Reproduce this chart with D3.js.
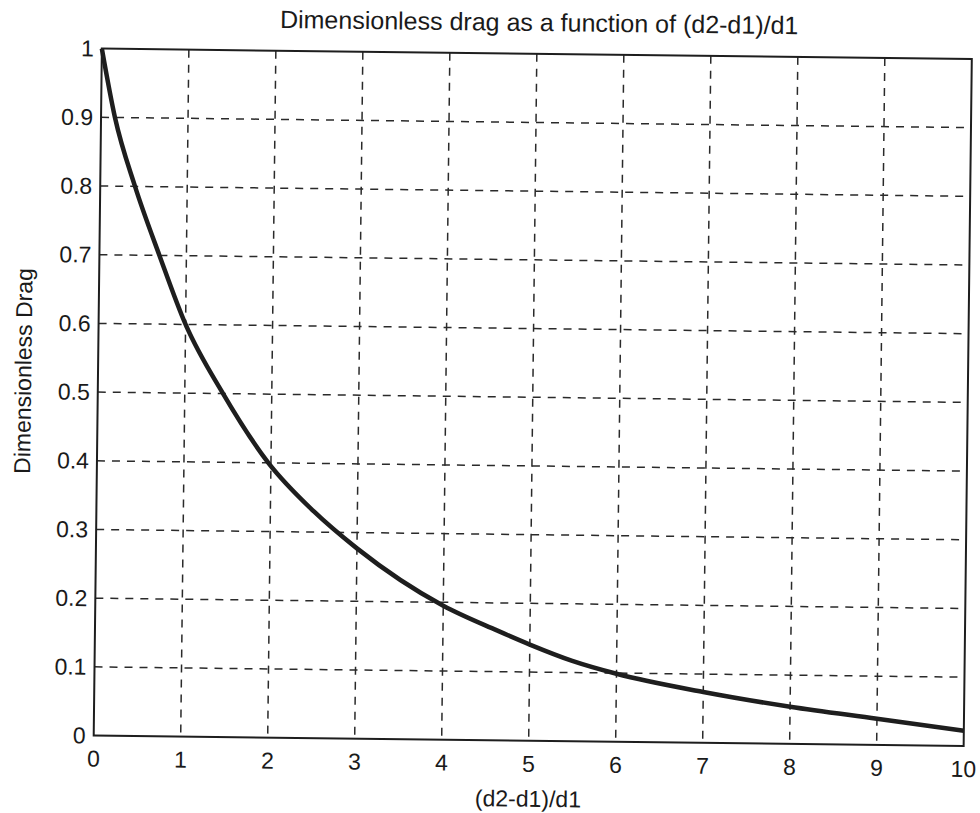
<!DOCTYPE html>
<html>
<head>
<meta charset="utf-8">
<script src="https://cdn.jsdelivr.net/npm/d3@7"></script>
<style>
  body { margin: 0; background: #fff; }
  text { font-family: "Liberation Sans", Arial, sans-serif; fill: #1a1a1a; }
</style>
</head>
<body>
<div id="chart"></div>
<script>
// values
var ratio = [0, 0.16, 0.40, 0.69, 1.0, 1.44, 1.97, 2.5, 3, 4, 4.62, 5, 5.49, 6, 7, 8, 9, 10];
var drag  = [1, 0.9, 0.8, 0.7, 0.6, 0.5, 0.4, 0.33, 0.277, 0.195, 0.16, 0.14, 0.117, 0.099, 0.074, 0.054, 0.038, 0.022];
var xTicks = [0, 1, 2, 3, 4, 5, 6, 7, 8, 9, 10];
var yTicks = [0, 0.1, 0.2, 0.3, 0.4, 0.5, 0.6, 0.7, 0.8, 0.9, 1];

var width = 980, height = 813;
var cx = 532.75, cy = 397.25;     // centre of the axes box
var boxW = 870, boxH = 687;
var plotLeft = cx - boxW / 2, plotTop = cy - boxH / 2;
var tilt = 0.68;                   // the scan is slightly rotated

var x = d3.scaleLinear().domain([0, 10]).range([plotLeft, plotLeft + boxW]);
var y = d3.scaleLinear().domain([0, 1]).range([plotTop + boxH, plotTop]);

var svg = d3.select("#chart").append("svg")
    .attr("width", width)
    .attr("height", height);

var g = svg.append("g")
    .attr("transform", "rotate(" + tilt + "," + cx + "," + cy + ")");

// grid
g.append("g").selectAll("line")
    .data(xTicks.slice(1, -1))
    .enter().append("line")
    .attr("x1", function(d) { return x(d); })
    .attr("x2", function(d) { return x(d); })
    .attr("y1", plotTop)
    .attr("y2", plotTop + boxH)
    .attr("stroke", "#2a2a2a")
    .attr("stroke-width", 1.5)
    .attr("stroke-dasharray", "8,7");

g.append("g").selectAll("line")
    .data(yTicks.slice(1, -1))
    .enter().append("line")
    .attr("y1", function(d) { return y(d); })
    .attr("y2", function(d) { return y(d); })
    .attr("x1", plotLeft)
    .attr("x2", plotLeft + boxW)
    .attr("stroke", "#2a2a2a")
    .attr("stroke-width", 1.5)
    .attr("stroke-dasharray", "8,7");

// box
g.append("rect")
    .attr("x", plotLeft)
    .attr("y", plotTop)
    .attr("width", boxW)
    .attr("height", boxH)
    .attr("fill", "none")
    .attr("stroke", "#1e1e1e")
    .attr("stroke-width", 2);

// tick labels
g.append("g").selectAll("text")
    .data(xTicks)
    .enter().append("text")
    .attr("x", function(d) { return x(d); })
    .attr("y", plotTop + boxH + 31)
    .attr("text-anchor", "middle")
    .attr("font-size", 23)
    .text(function(d) { return d; });

g.append("g").selectAll("text")
    .data(yTicks)
    .enter().append("text")
    .attr("x", plotLeft - 8)
    .attr("y", function(d) { return y(d) + 8; })
    .attr("text-anchor", "end")
    .attr("font-size", 23)
    .text(function(d) { return d; });

// curve
var line = d3.line()
    .x(function(d, i) { return x(ratio[i]); })
    .y(function(d, i) { return y(drag[i]); })
    .curve(d3.curveMonotoneX);

g.append("path")
    .datum(drag)
    .attr("d", line)
    .attr("fill", "none")
    .attr("stroke", "#1e1e1e")
    .attr("stroke-width", 4.5)
    .attr("stroke-linejoin", "round");

// titles
g.append("text")
    .attr("x", cx + 2)
    .attr("y", 31)
    .attr("text-anchor", "middle")
    .attr("font-size", 25)
    .text("Dimensionless drag as a function of (d2-d1)/d1");

g.append("text")
    .attr("x", cx)
    .attr("y", plotTop + boxH + 66)
    .attr("text-anchor", "middle")
    .attr("font-size", 23)
    .text("(d2-d1)/d1");

g.append("text")
    .attr("transform", "translate(31,377) rotate(-90)")
    .attr("text-anchor", "middle")
    .attr("font-size", 23)
    .text("Dimensionless Drag");
</script>
</body>
</html>
